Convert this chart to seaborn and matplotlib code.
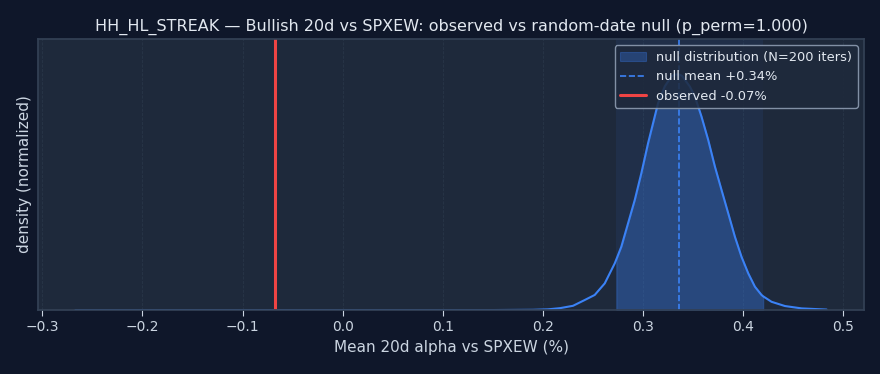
import numpy as np
import pandas as pd
import matplotlib
matplotlib.use("Agg")
import matplotlib.pyplot as plt
import seaborn as sns

# null distribution curve (normalized KDE)
null_x = [-0.267, 0.10, 0.15, 0.19, 0.205, 0.217, 0.23, 0.2417, 0.2517, 0.2617,
          0.2717, 0.2733, 0.2783, 0.285, 0.2917, 0.2983, 0.305, 0.310, 0.315,
          0.3217, 0.3283, 0.332, 0.3357, 0.339, 0.3417, 0.3467, 0.3517, 0.3583,
          0.365, 0.3717, 0.3783, 0.385, 0.3917, 0.3983, 0.405, 0.4117, 0.4183,
          0.420, 0.4283, 0.4417, 0.4583, 0.4833]
null_y = [0.0, 0.0, 0.0, 0.001, 0.003, 0.008, 0.018, 0.0425, 0.064, 0.113,
          0.198, 0.215, 0.269, 0.368, 0.467, 0.581, 0.708, 0.793, 0.878,
          0.949, 0.991, 0.999, 1.0, 0.993, 0.977, 0.948, 0.906, 0.821,
          0.722, 0.609, 0.51, 0.411, 0.311, 0.226, 0.156, 0.099, 0.064,
          0.058, 0.035, 0.017, 0.007, 0.002]

band_lo, band_hi = 0.2733, 0.420
null_mean = 0.3357
observed = -0.068
n_iters = 200
p_perm = 1.000

df = pd.DataFrame({"x": null_x, "y": null_y})

sns.set_theme(style="dark")
bg = "#0f172a"
panel = "#1e293b"
blue = "#3b82f6"
red = "#ef4444"
txt = "#cbd5e1"

fig, ax = plt.subplots(figsize=(8.8, 3.74), dpi=100)
fig.patch.set_facecolor(bg)
ax.set_facecolor(panel)
plt.subplots_adjust(left=0.043, right=0.982, top=0.896, bottom=0.171)

ax.axvspan(band_lo, band_hi, color=blue, alpha=0.08, lw=0)
inband = df[(df.x >= band_lo) & (df.x <= band_hi)]
ax.fill_between(inband.x, 0, inband.y, facecolor=blue, edgecolor=blue, alpha=0.3, lw=0.8,
                label=f"null distribution (N={n_iters} iters)")
sns.lineplot(data=df, x="x", y="y", ax=ax, color=blue, lw=1.5)
ax.axvline(null_mean, color=blue, ls="--", lw=1.2, label=f"null mean {null_mean:+.2f}%")
ax.axvline(observed, color=red, lw=2.2, label=f"observed {observed:+.2f}%")

ax.set_ylim(0, 1.15)
ax.set_yticks([])
ax.set_xticks(np.arange(-0.3, 0.51, 0.1))
ax.grid(axis="x", color="#334155", ls="--", lw=0.6, alpha=0.5)
ax.tick_params(axis="x", colors=txt, labelsize=10, bottom=True, length=4, width=0.8)
for s in ax.spines.values():
    s.set_color("#334155")

ax.set_xlabel("Mean 20d alpha vs SPXEW (%)", color=txt, fontsize=11)
ax.set_ylabel("density (normalized)", color=txt, fontsize=11)
ax.set_title(f"HH_HL_STREAK — Bullish 20d vs SPXEW: observed vs random-date null (p_perm={p_perm:.3f})",
             color="#e2e8f0", fontsize=11.5)

leg = ax.legend(loc="upper right", fontsize=9.4, facecolor=panel, edgecolor="#94a3b8",
                framealpha=0.85)
for t in leg.get_texts():
    t.set_color("#e2e8f0")

fig.savefig("out.png", dpi=100, facecolor=bg)
